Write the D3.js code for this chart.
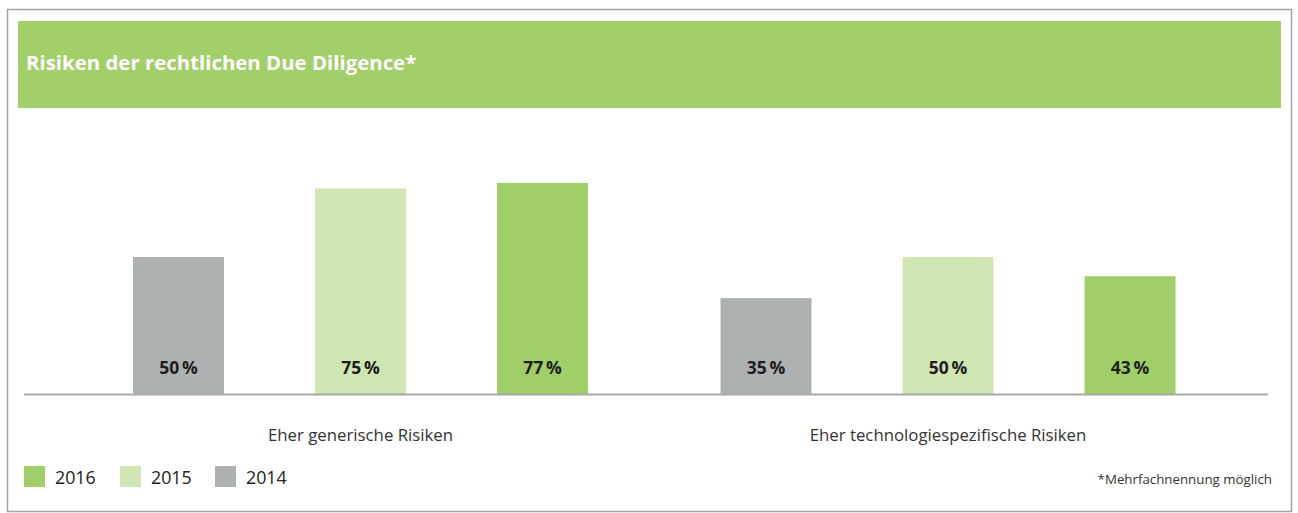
<!DOCTYPE html>
<html>
<head>
<meta charset="utf-8">
<script src="https://cdn.jsdelivr.net/npm/d3@7/dist/d3.min.js"></script>
<style>
  html, body { margin: 0; padding: 0; background: #fff; }
  svg { display: block; font-family: "Open Sans", "Noto Sans", sans-serif; }
</style>
</head>
<body>
<svg id="chart" width="1298" height="513"></svg>
<script>
// Survey data: legal due diligence risks by year
const categories = ["Eher generische Risiken", "Eher technologiespezifische Risiken"];
const years = ["2014", "2015", "2016"];
const values2014 = [50, 35];
const values2015 = [75, 50];
const values2016 = [77, 43];
const legendYears = ["2016", "2015", "2014"];
const title = "Risiken der rechtlichen Due Diligence*";
const footnote = "*Mehrfachnennung möglich";

const seriesByYear = { "2014": values2014, "2015": values2015, "2016": values2016 };
const colors = { "2016": "#a0cf69", "2015": "#cfe5b2", "2014": "#aeb1b2" };

const svg = d3.select("#chart");

// outer frame
svg.append("rect")
  .attr("x", 7.5).attr("y", 9.5)
  .attr("width", 1284).attr("height", 502)
  .attr("fill", "#fff")
  .attr("stroke", "#a3a3a3").attr("stroke-width", 1.5);

// header band
svg.append("rect")
  .attr("x", 18).attr("y", 21)
  .attr("width", 1263).attr("height", 87)
  .attr("fill", "#a1cf69");

svg.append("text")
  .attr("x", 26).attr("y", 70)
  .attr("fill", "#fff")
  .attr("font-weight", 700)
  .attr("font-size", 20.4)
  .text(title);

// scales
const baseline = 394;
const y = d3.scaleLinear().domain([0, 100]).range([baseline, 120]);

const x0 = d3.scaleBand()
  .domain(categories)
  .range([66.75, 1241.75])
  .padding(0);

const x1 = d3.scaleBand()
  .domain(years)
  .range([0, 546])
  .paddingInner(0.5)
  .paddingOuter(0.25);

const groupOffset = c => x0(c) + x0.bandwidth() / 2 - 273;

const rows = [];
categories.forEach((c, i) => {
  years.forEach(yr => rows.push({ category: c, year: yr, value: seriesByYear[yr][i] }));
});

const g = svg.append("g");

g.selectAll("rect.bar")
  .data(rows)
  .join("rect")
  .attr("class", "bar")
  .attr("x", d => groupOffset(d.category) + x1(d.year))
  .attr("y", d => y(d.value))
  .attr("width", x1.bandwidth())
  .attr("height", d => y(0) - y(d.value))
  .attr("fill", d => colors[d.year]);

g.selectAll("text.val")
  .data(rows)
  .join("text")
  .attr("class", "val")
  .attr("x", d => groupOffset(d.category) + x1(d.year) + x1.bandwidth() / 2)
  .attr("y", 374)
  .attr("text-anchor", "middle")
  .attr("font-weight", 700)
  .attr("font-size", 17.5)
  .attr("fill", "#1e1e1e")
  .text(d => d.value + "\u2009%");

// baseline axis
const xAxis = d3.axisBottom(x0).tickSize(0).tickPadding(0);
const axisG = svg.append("g")
  .attr("transform", `translate(0,${baseline})`)
  .call(xAxis);
axisG.select(".domain").remove();
axisG.append("line")
  .attr("x1", 24).attr("x2", 1268)
  .attr("y1", 0.5).attr("y2", 0.5)
  .attr("stroke", "#a8a8a8").attr("stroke-width", 2);
axisG.selectAll(".tick text")
  .attr("y", 47)
  .attr("dy", 0)
  .attr("font-family", "\"Open Sans\", sans-serif")
  .attr("font-size", 16.8)
  .attr("fill", "#333");

// legend
const legend = svg.append("g");
const legendX = [24, 120, 215];
legendYears.forEach((yr, i) => {
  legend.append("rect")
    .attr("x", legendX[i]).attr("y", 466)
    .attr("width", 21).attr("height", 21)
    .attr("fill", colors[yr]);
  legend.append("text")
    .attr("x", legendX[i] + 31).attr("y", 483.5)
    .attr("font-size", 17.8)
    .attr("fill", "#222")
    .text(yr);
});

svg.append("text")
  .attr("x", 1272).attr("y", 484)
  .attr("text-anchor", "end")
  .attr("font-size", 13.3)
  .attr("fill", "#333")
  .text(footnote);
</script>
</body>
</html>
